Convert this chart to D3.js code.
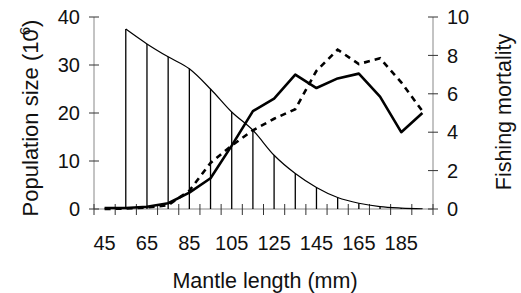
<!DOCTYPE html>
<html>
<head>
<meta charset="utf-8">
<script src="https://cdn.jsdelivr.net/npm/d3@7"></script>
<style>
  body { margin: 0; background: #fff; }
  text { font-family: "Liberation Sans", Arial, sans-serif; fill: #111; }
</style>
</head>
<body>
<svg width="521" height="293"></svg>
<script>
// mantle length classes (mm)
const lengths = [45, 55, 65, 75, 85, 95, 105, 115, 125, 135, 145, 155, 165, 175, 185, 195];
const lengthLabels = [45, 65, 85, 105, 125, 145, 165, 185];
// population size (10^6), starts at 55 mm
const population = [null, 37.5, 34.4, 31.7, 29.2, 25.0, 20.2, 16.4, 11.2, 7.4, 4.5, 2.4, 1.2, 0.5, 0.2, 0.05];
// fishing mortality, two series
const mortalitySolid = [0.05, 0.05, 0.12, 0.3, 0.85, 1.6, 3.3, 5.1, 5.75, 7.0, 6.3, 6.8, 7.05, 5.85, 4.0, 5.0];
const mortalityDashed = [0, 0.02, 0.08, 0.2, 0.95, 2.4, 3.3, 4.1, 4.7, 5.2, 7.2, 8.3, 7.55, 7.85, 6.6, 5.1];
const leftTicks = [0, 10, 20, 30, 40];
const rightTicks = [0, 2, 4, 6, 8, 10];

const svg = d3.select("svg");
const plot = { left: 94, right: 433, top: 17, bottom: 209 };

const x = d3.scaleBand()
    .domain(lengths)
    .range([plot.left, plot.right])
    .padding(0);
const cx = d => x(d) + x.bandwidth() / 2;

const yL = d3.scaleLinear().domain([0, 40]).range([plot.bottom, plot.top]);
const yR = d3.scaleLinear().domain([0, 10]).range([plot.bottom, plot.top]);

// axis lines
svg.append("line")
    .attr("x1", plot.left).attr("x2", plot.right)
    .attr("y1", yL(0)).attr("y2", yL(0))
    .attr("stroke", "#888").attr("stroke-width", 1);
svg.append("line")
    .attr("x1", plot.left).attr("x2", plot.left)
    .attr("y1", yL(0)).attr("y2", yL(40))
    .attr("stroke", "#888").attr("stroke-width", 1);
svg.append("line")
    .attr("x1", plot.right).attr("x2", plot.right)
    .attr("y1", yR(0)).attr("y2", yR(10))
    .attr("stroke", "#888").attr("stroke-width", 1);

// x ticks at class boundaries (crossing the axis)
const bounds = lengths.map(d => x(d)).concat([x.range()[1]]);
svg.append("g").selectAll("line")
    .data(bounds)
    .join("line")
    .attr("x1", d => d).attr("x2", d => d)
    .attr("y1", yL(0) - 5).attr("y2", yL(0) + 6)
    .attr("stroke", "#333").attr("stroke-width", 1);

svg.append("g").selectAll("text")
    .data(lengthLabels)
    .join("text")
    .attr("x", d => cx(d))
    .attr("y", 250)
    .attr("text-anchor", "middle")
    .style("font-size", "20px")
    .text(d => d);

// left axis ticks
svg.append("g").selectAll("line")
    .data(leftTicks)
    .join("line")
    .attr("x1", plot.left - 5).attr("x2", plot.left + 5)
    .attr("y1", d => yL(d)).attr("y2", d => yL(d))
    .attr("stroke", "#333").attr("stroke-width", 1);
svg.append("g").selectAll("text")
    .data(leftTicks)
    .join("text")
    .attr("x", 80)
    .attr("y", d => yL(d))
    .attr("dy", "0.36em")
    .attr("text-anchor", "end")
    .style("font-size", "20px")
    .text(d => d);

// right axis ticks
svg.append("g").selectAll("line")
    .data(rightTicks)
    .join("line")
    .attr("x1", plot.right - 5).attr("x2", plot.right + 5)
    .attr("y1", d => yR(d)).attr("y2", d => yR(d))
    .attr("stroke", "#333").attr("stroke-width", 1);
svg.append("g").selectAll("text")
    .data(rightTicks)
    .join("text")
    .attr("x", 447)
    .attr("y", d => yR(d))
    .attr("dy", "0.36em")
    .attr("text-anchor", "start")
    .style("font-size", "20px")
    .text(d => d);

// population: drop lines + curve
const popData = lengths.map((d, i) => ({ len: d, v: population[i] })).filter(d => d.v !== null);

svg.append("g").selectAll("line")
    .data(popData)
    .join("line")
    .attr("x1", d => cx(d.len)).attr("x2", d => cx(d.len))
    .attr("y1", d => yL(d.v)).attr("y2", yL(0))
    .attr("stroke", "#000").attr("stroke-width", 1.3);

svg.append("path")
    .datum(popData)
    .attr("fill", "none")
    .attr("stroke", "#000")
    .attr("stroke-width", 1.2)
    .attr("d", d3.line().x(d => cx(d.len)).y(d => yL(d.v)).curve(d3.curveMonotoneX));

// fishing mortality lines
const mLine = d3.line().x((d, i) => cx(lengths[i])).y(d => yR(d));

svg.append("path")
    .datum(mortalityDashed)
    .attr("fill", "none")
    .attr("stroke", "#000")
    .attr("stroke-width", 2.6)
    .attr("stroke-dasharray", "6,5")
    .attr("d", mLine);

svg.append("path")
    .datum(mortalitySolid)
    .attr("fill", "none")
    .attr("stroke", "#000")
    .attr("stroke-width", 2.6)
    .attr("stroke-linejoin", "round")
    .attr("d", mLine);

// axis titles
svg.append("text")
    .attr("x", 265)
    .attr("y", 288)
    .attr("text-anchor", "middle")
    .style("font-size", "21.5px")
    .text("Mantle length (mm)");

const lt = svg.append("text")
    .attr("transform", "translate(38,118) rotate(-90)")
    .attr("text-anchor", "middle")
    .style("font-size", "22px");
lt.append("tspan").text("Population size (10");
lt.append("tspan").attr("dx", -6).attr("dy", -8).style("font-size", "15px").text("6");
lt.append("tspan").attr("dy", 8).text(")");

svg.append("text")
    .attr("transform", "translate(511,112) rotate(-90)")
    .attr("text-anchor", "middle")
    .style("font-size", "21.5px")
    .text("Fishing mortality");
</script>
</body>
</html>
